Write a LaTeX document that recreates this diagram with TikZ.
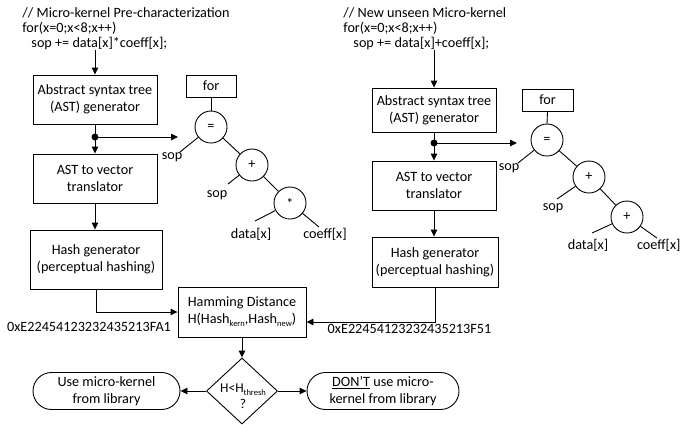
\documentclass[tikz,border=0pt]{standalone}
\usepackage{fontspec}
\setmainfont{Carlito}
\usetikzlibrary{arrows.meta,shapes.geometric,shapes.misc}
\newcommand\mysub[1]{\raisebox{-0.45ex}{\fontsize{8.5}{9}\selectfont #1}}
\begin{document}
\begin{tikzpicture}[x=1pt,y=-1pt,
  font=\fontsize{14.2}{17}\selectfont, line width=0.9pt,
  box/.style={draw, align=center, inner sep=0pt},
  arr/.style={-{Triangle[length=7pt,width=6.5pt]}},
  circ/.style={draw, circle, minimum size=32pt, inner sep=0pt},
  lbl/.style={inner sep=0pt},
  code/.style={anchor=base west, inner sep=0pt},
  dotnode/.style={circle, fill, minimum size=7pt, inner sep=0pt},
  term/.style={draw, rounded rectangle, minimum height=37pt, inner sep=0pt, align=center}]
\useasboundingbox (0,0) rectangle (682,424);

% ---------- left column ----------
\node[code] (c1a) at (22,17) {// Micro-kernel Pre-characterization};
\node[code] (c1b) at (22,32) {for(x=0;x<8;x++)};
\node[code] (c1c) at (31,47) {sop += data[x]*coeff[x];};
\node[box, minimum width=124pt, minimum height=49pt] (ast1) at (95,99.5) {Abstract syntax tree\\(AST) generator};
\node[box, minimum width=124pt, minimum height=49pt] (vec1) at (95,178.5) {AST to vector\\translator};
\node[box, minimum width=132pt, minimum height=59pt] (hash1) at (96,259.5) {Hash generator\\(perceptual hashing)};
\node[dotnode] (dot1) at (95,137) {};
\coordinate (tr1) at (178,137);
\draw[arr] (c1c.south -| ast1.north) -- (ast1.north);
\draw[arr] (ast1.south) -- (vec1.north);
\draw[arr] (dot1.center) -- (tr1);
\draw[arr] (vec1.south) -- (vec1.south |- hash1.north);

% ---------- left tree ----------
\node[box, minimum width=50pt, minimum height=22pt] (for1) at (211,86) {for};
\node[circ] (eq1) at (211,127) {=};
\node[circ] (pl1) at (252,165) {+};
\node[circ] (mul1) at (290,203) {*};
\node[lbl] (s1a) at (172,157) {sop};
\node[lbl] (s1b) at (217,195) {sop};
\node[lbl] (d1) at (251,234) {data[x]};
\node[lbl] (cf1) at (325,234) {coeff[x]};
\coordinate (e1a) at (180,152);
\coordinate (e1b) at (228,184);
\coordinate (e1c) at (255,221);
\coordinate (e1d) at (319,227);
\draw (for1.south) -- (eq1.north);
\draw (eq1) -- (pl1);
\draw (pl1) -- (mul1);
\draw (eq1) -- (e1a);
\draw (pl1) -- (e1b);
\draw (mul1) -- (e1c);
\draw (mul1) -- (e1d);

% ---------- right column ----------
\node[code] (c2a) at (343,17) {// New unseen Micro-kernel};
\node[code] (c2b) at (343,32) {for(x=0;x<8;x++)};
\node[code] (c2c) at (353,47) {sop += data[x]+coeff[x];};
\node[box, minimum width=124pt, minimum height=44pt] (ast2) at (434,110) {Abstract syntax tree\\(AST) generator};
\node[box, minimum width=124pt, minimum height=49pt] (vec2) at (434,185.5) {AST to vector\\translator};
\node[box, minimum width=126pt, minimum height=50pt] (hash2) at (435,262) {Hash generator\\(perceptual hashing)};
\node[dotnode] (dot2) at (434,143) {};
\coordinate (tr2) at (517,143);
\draw[arr] (c2c.south -| ast2.north) -- (ast2.north);
\draw[arr] (ast2.south) -- (vec2.north);
\draw[arr] (dot2.center) -- (tr2);
\draw[arr] (vec2.south) -- (vec2.south |- hash2.north);

% ---------- right tree ----------
\node[box, minimum width=51pt, minimum height=22pt] (for2) at (547.5,100) {for};
\node[circ] (eq2) at (547,140) {=};
\node[circ] (pl2) at (589,177) {+};
\node[circ] (pl3) at (627,217) {+};
\node[lbl] (s2a) at (509,168) {sop};
\node[lbl] (s2b) at (553,208) {sop};
\node[lbl] (d2) at (588,245) {data[x]};
\node[lbl, anchor=east] (cf2) at (681,245) {coeff[x]};
\coordinate (e2a) at (518,163);
\coordinate (e2b) at (557,199);
\coordinate (e2c) at (592,233);
\coordinate (e2d) at (657,238);
\draw (for2.south) -- (eq2.north);
\draw (eq2) -- (pl2);
\draw (pl2) -- (pl3);
\draw (eq2) -- (e2a);
\draw (pl2) -- (e2b);
\draw (pl3) -- (e2c);
\draw (pl3) -- (e2d);

% ---------- bottom ----------
\node[box, minimum width=128pt, minimum height=50pt] (ham) at (242,312) {Hamming Distance\\H(Hash\mysub{kern},Hash\mysub{new})};
\node[lbl] (hx1) at (89,327) {0xE22454123232435213FA1};
\node[lbl] (hx2) at (409.5,329) {0xE22454123232435213F51};
\draw[arr] (hash1.south) |- (ham.west);
\draw[arr] (hash2.south) |- ([yshift=-10pt]ham.east);

\node[diamond, draw, minimum width=71pt, minimum height=66pt, inner sep=0pt] (dia) at (242,391) {};
\node[lbl, align=center, font=\fontsize{13.5}{16}\selectfont] (diat) at (243,396) {H<H\mysub{thresh}\\?};
\node[term, minimum width=147pt] (use) at (106.5,391) {Use micro-kernel\\from library};
\node[term, minimum width=152pt] (dont) at (383,391) {\underline{DON’T} use micro-\\kernel from library};
\draw[arr] (ham.south) -- (dia.north);
\draw[arr] (dia.west) -- (use.east);
\draw[arr] (dia.east) -- (dont.west);
\end{tikzpicture}
\end{document}
